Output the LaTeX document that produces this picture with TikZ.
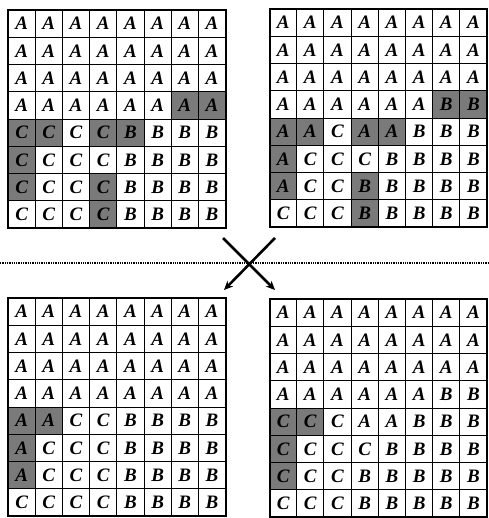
\documentclass[tikz,border=0pt]{standalone}
\usepackage{fontspec}
\setmainfont{Liberation Serif}
\usetikzlibrary{arrows.meta}

\tikzset{
  cell/.style={draw, line width=0.9pt, minimum width=27.2pt, minimum height=27.25pt,
               inner sep=0pt, font=\fontsize{19}{19}\selectfont\bfseries\itshape},
  shaded/.style={fill=black!52},
  frame/.style={draw, line width=2pt},
  cross/.style={line width=2.6pt, -{Stealth[length=9pt,width=8pt]}},
}

% #1 name, #2/#3 top left corner, #4 shaded cells (col/row), #5 rows of letters
\newcommand{\chromgrid}[5]{%
  \begin{scope}[shift={(#2,#3)}]
    \foreach \i/\j in {#4}
      \fill[shaded] ({(\i-1)*27.2},{(\j-1)*27.25}) rectangle ++(27.2,27.25);
    \foreach \row [count=\j] in {#5}
      \foreach \l [count=\i] in \row
        \node[cell] (#1-\j-\i) at ({(\i-0.5)*27.2},{(\j-0.5)*27.25}) {\l};
    \draw[frame] (0,0) rectangle (217.6,218);
  \end{scope}}

\begin{document}
\begin{tikzpicture}[x=1pt, y=-1pt]
\useasboundingbox (0,0) rectangle (488,518);

% parents
\chromgrid{pa}{8}{10}{7/4,8/4,1/5,2/5,4/5,5/5,1/6,1/7,4/7,4/8}{
  {A,A,A,A,A,A,A,A},{A,A,A,A,A,A,A,A},{A,A,A,A,A,A,A,A},{A,A,A,A,A,A,A,A},
  {C,C,C,C,B,B,B,B},{C,C,C,C,B,B,B,B},{C,C,C,C,B,B,B,B},{C,C,C,C,B,B,B,B}}
\chromgrid{pb}{269.5}{9}{7/4,8/4,1/5,2/5,4/5,5/5,1/6,1/7,4/7,4/8}{
  {A,A,A,A,A,A,A,A},{A,A,A,A,A,A,A,A},{A,A,A,A,A,A,A,A},{A,A,A,A,A,A,B,B},
  {A,A,C,A,A,B,B,B},{A,C,C,C,B,B,B,B},{A,C,C,B,B,B,B,B},{C,C,C,B,B,B,B,B}}

% offspring
\chromgrid{ca}{8}{298}{1/5,2/5,1/6,1/7}{
  {A,A,A,A,A,A,A,A},{A,A,A,A,A,A,A,A},{A,A,A,A,A,A,A,A},{A,A,A,A,A,A,A,A},
  {A,A,C,C,B,B,B,B},{A,C,C,C,B,B,B,B},{A,C,C,C,B,B,B,B},{C,C,C,C,B,B,B,B}}
\chromgrid{cb}{269.5}{299}{1/5,2/5,1/6,1/7}{
  {A,A,A,A,A,A,A,A},{A,A,A,A,A,A,A,A},{A,A,A,A,A,A,A,A},{A,A,A,A,A,A,B,B},
  {C,C,C,A,A,B,B,B},{C,C,C,C,B,B,B,B},{C,C,C,B,B,B,B,B},{C,C,C,B,B,B,B,B}}

% crossover
\coordinate (dl) at (0,263);
\coordinate (dr) at (488,263);
\draw[densely dotted, line width=1.3pt] (dl) -- (dr);

\coordinate (xa) at (223,238);
\coordinate (xb) at (275,238);
\coordinate (xc) at (224,290);
\coordinate (xd) at (275,290);
\draw[cross] (xa) -- (xd);
\draw[cross] (xb) -- (xc);

\end{tikzpicture}
\end{document}
